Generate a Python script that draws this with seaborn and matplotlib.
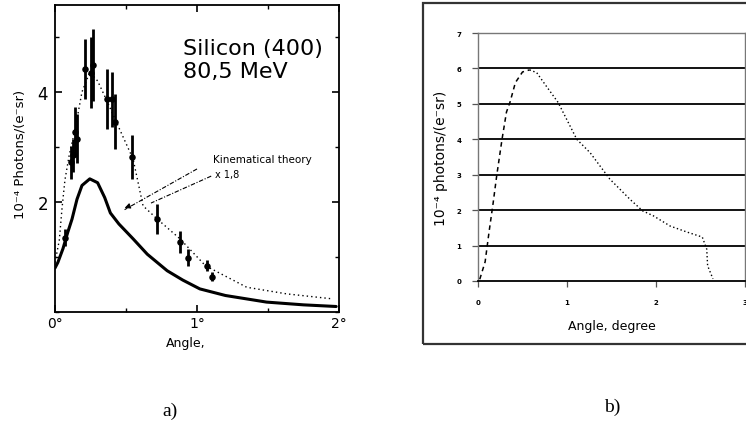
import matplotlib
matplotlib.use("Agg")
import matplotlib.pyplot as plt
from matplotlib.patches import Rectangle
from matplotlib.ticker import MultipleLocator
import numpy as np
import pandas as pd
import seaborn as sns

# ---------------- panel a: Silicon (400), 80.5 MeV ----------------
theory_angle = [0.0, 0.02, 0.056, 0.09, 0.12, 0.155, 0.19, 0.245, 0.30, 0.35, 0.39,
                0.45, 0.55, 0.65, 0.79, 0.90, 1.02, 1.20, 1.49, 1.75, 1.98]
theory_val = [0.80, 0.90, 1.15, 1.45, 1.69, 2.05, 2.30, 2.42, 2.35, 2.08, 1.80,
              1.60, 1.33, 1.05, 0.75, 0.58, 0.42, 0.30, 0.18, 0.13, 0.10]

fit_angle = [0.0, 0.03, 0.05, 0.07, 0.10, 0.14, 0.19, 0.245, 0.30, 0.36, 0.45,
             0.55, 0.62, 0.72, 0.88, 1.06, 1.35, 1.63, 1.95]
fit_val = [0.90, 1.30, 1.90, 2.40, 2.85, 3.30, 4.00, 4.36, 4.20, 3.87, 3.35,
           2.78, 1.93, 1.69, 1.33, 0.84, 0.45, 0.33, 0.24]

pt_angle = [0.07, 0.11, 0.125, 0.14, 0.155, 0.21, 0.257, 0.265, 0.363, 0.398,
            0.426, 0.545, 0.72, 0.88, 0.935, 1.07, 1.107]
pt_val = [1.35, 2.72, 2.85, 3.27, 3.15, 4.42, 4.35, 4.49, 3.87, 3.87,
          3.46, 2.81, 1.69, 1.27, 0.99, 0.84, 0.64]
pt_err = [0.15, 0.30, 0.30, 0.45, 0.45, 0.55, 0.65, 0.65, 0.55, 0.50,
          0.50, 0.40, 0.27, 0.20, 0.15, 0.10, 0.08]

a_xticks = [0, 1, 2]
a_xticklabels = ["0°", "1°", "2°"]
a_yticks = [2, 4]

# ---------------- panel b: computed yield ----------------
b_angle = [0.02, 0.08, 0.125, 0.17, 0.21, 0.27, 0.32, 0.36, 0.42, 0.50, 0.58,
           0.66, 0.77, 0.90, 1.11, 1.26, 1.48, 1.71, 1.85, 1.97, 2.16, 2.35,
           2.52, 2.57, 2.58, 2.64]
b_val = [0.05, 0.54, 1.40, 2.20, 2.97, 4.00, 4.77, 5.05, 5.60, 5.90, 5.96,
         5.88, 5.49, 5.04, 4.00, 3.62, 2.88, 2.30, 1.98, 1.84, 1.55, 1.38,
         1.24, 0.90, 0.43, 0.06]
b_xticks = [0, 1, 2, 3]
b_yticks = [0, 1, 2, 3, 4, 5, 6, 7]

sns.set_theme(style="white")
plt.rcParams["font.family"] = ["DejaVu Sans"]
plt.rcParams.update({
    "text.color": "black",
    "axes.labelcolor": "black",
    "xtick.color": "black",
    "ytick.color": "black",
})

W, H = 746, 427
fig = plt.figure(figsize=(W / 100, H / 100), dpi=100)
fig.patch.set_facecolor("white")


def fx(px):
    return px / W


def fy(py):
    return 1 - py / H


# ======== panel a ========
axa = fig.add_axes([fx(55), fy(313), fx(339) - fx(55), fy(6) - fy(313)])
axa.set_xlim(0, 2)
axa.set_ylim(0, 5.58)

theory = pd.DataFrame({"angle": theory_angle, "val": theory_val})
fit = pd.DataFrame({"angle": fit_angle, "val": fit_val})
pts = pd.DataFrame({"angle": pt_angle, "val": pt_val, "err": pt_err})

sns.lineplot(data=fit, x="angle", y="val", ax=axa, color="black", lw=1.0,
             linestyle=(0, (1, 2.2)), sort=False, estimator=None)
sns.lineplot(data=theory, x="angle", y="val", ax=axa, color="black", lw=2.2,
             sort=False, estimator=None)
axa.errorbar(pts["angle"], pts["val"], yerr=pts["err"], fmt="none",
             ecolor="black", elinewidth=2.0, capsize=0)
sns.scatterplot(data=pts, x="angle", y="val", ax=axa, color="black", s=22,
                edgecolor="black", linewidth=0, zorder=5)

for sp in axa.spines.values():
    sp.set_visible(True)
    sp.set_color("black")
    sp.set_linewidth(1.3)

axa.set_xticks(a_xticks)
axa.set_xticklabels(a_xticklabels, fontsize=10)
axa.set_yticks(a_yticks)
axa.set_yticklabels([str(v) for v in a_yticks], fontsize=12)
axa.xaxis.set_minor_locator(MultipleLocator(0.5))
axa.yaxis.set_minor_locator(MultipleLocator(1))
axa.tick_params(axis="both", which="both", direction="in", top=True,
                right=True, bottom=True, left=True, color="black")
axa.tick_params(axis="both", which="major", length=5, width=1.2)
axa.tick_params(axis="both", which="minor", length=3, width=1.0)
axa.tick_params(axis="x", pad=3)
axa.tick_params(axis="y", pad=5)

axa.set_ylabel("10⁻⁴ Photons/(e⁻sr)", fontsize=9.5, va="center")
axa.yaxis.set_label_coords((20 - 55) / 284, (313 - 154) / 307)
axa.set_xlabel("Angle,", fontsize=9, va="center")
axa.xaxis.set_label_coords((186 - 55) / 284, (313 - 343) / 307)

axa.text(0.45, 0.86, "Silicon (400)", transform=axa.transAxes, fontsize=16,
         ha="left", va="center")
axa.text(0.45, 0.785, "80,5 MeV", transform=axa.transAxes, fontsize=16,
         ha="left", va="center")

axa.text(1.113, 2.78, "Kinematical theory", fontsize=7.5, ha="left", va="center")
axa.text(1.127, 2.50, "x 1,8", fontsize=7, ha="left", va="center")

dashdot = (0, (4, 1.5, 1, 1.5))
axa.plot([1.0, 0.49], [2.6, 1.86], color="black", lw=0.8, linestyle=dashdot)
axa.annotate("", xy=(0.472, 1.873), xytext=(0.53, 1.93),
             arrowprops=dict(arrowstyle="-|>", color="black", lw=0.8,
                             mutation_scale=8))
axa.plot([1.10, 0.676], [2.47, 1.98], color="black", lw=0.8, linestyle=dashdot)

# ======== panel b ========
fig.patches.append(Rectangle((fx(423), fy(345)), 1.0, fy(4) - fy(345),
                             transform=fig.transFigure, fill=False,
                             edgecolor="#333333", lw=1.6))

axb = fig.add_axes([fx(478), fy(282), fx(745) - fx(478), fy(34) - fy(282)])
axb.set_xlim(0, 3)
axb.set_ylim(0, 7)

for yv in b_yticks[1:-1]:
    axb.axhline(yv, color="black", lw=1.3, zorder=1)

curve = pd.DataFrame({"angle": b_angle, "val": b_val})
rise = curve.iloc[:11]
tail = curve.iloc[10:]
sns.lineplot(data=rise, x="angle", y="val", ax=axb, color="black", lw=1.1,
             linestyle=(0, (3, 2.5)), sort=False, estimator=None, zorder=3)
sns.lineplot(data=tail, x="angle", y="val", ax=axb, color="black", lw=1.0,
             linestyle=(0, (1, 1.8)), sort=False, estimator=None, zorder=3)

for name, sp in axb.spines.items():
    sp.set_visible(True)
    sp.set_color("#777777")
    sp.set_linewidth(1.0)
axb.spines["bottom"].set_color("black")
axb.spines["bottom"].set_linewidth(1.3)

axb.set_xticks(b_xticks)
axb.set_xticklabels([str(v) for v in b_xticks], fontsize=5, fontweight="bold")
axb.set_yticks(b_yticks)
axb.set_yticklabels([str(v) for v in b_yticks], fontsize=5, fontweight="bold")
axb.tick_params(axis="both", which="major", direction="out", length=4,
                width=0.9, color="#555555", bottom=True, left=True)
axb.tick_params(axis="x", pad=9)
axb.tick_params(axis="y", pad=8)

axb.set_ylabel("10⁻⁴ photons/(e⁻sr)", fontsize=10, va="center")
axb.yaxis.set_label_coords((441 - 478) / 267, 0.5)
axb.set_xlabel("Angle, degree", fontsize=9, va="center")
axb.xaxis.set_label_coords(0.5, (282 - 327) / 248)

# ======== panel captions ========
fig.text(fx(170), fy(411), "a)", fontsize=14, ha="center", va="center",
         family=["Liberation Serif", "DejaVu Serif"])
fig.text(fx(612), fy(407), "b)", fontsize=14, ha="center", va="center",
         family=["Liberation Serif", "DejaVu Serif"])

fig.savefig("out.png", dpi=100)
